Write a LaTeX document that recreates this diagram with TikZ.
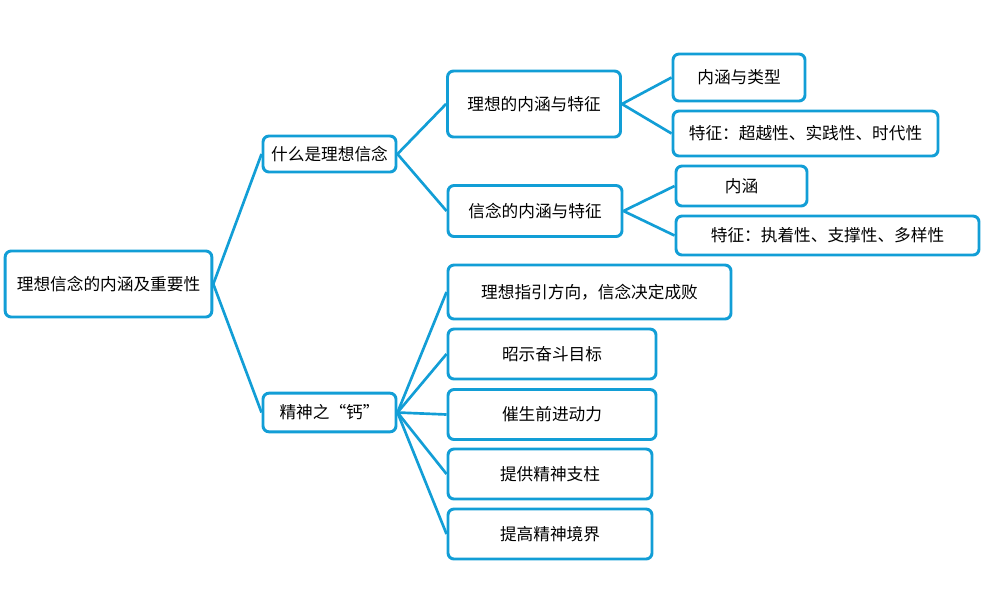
\documentclass[tikz,border=0pt]{standalone}
\usepackage{fontspec}
\setmainfont{Noto Sans CJK SC}
\definecolor{mapblue}{RGB}{18,158,214}
\begin{document}
\begin{tikzpicture}[x=0.75pt,y=-0.75pt,
	box/.style={draw=mapblue,line width=2.2pt,rounded corners=4.5pt,fill=white,
		inner sep=0pt,font=\fontsize{12.5}{15}\selectfont},
	link/.style={draw=mapblue,line width=2pt}]

\useasboundingbox (0,0) rectangle (981,612);

\node[box,minimum width=155pt,minimum height=49.5pt] (root) at (108.5,284) {理想信念的内涵及重要性};

\node[box,minimum width=99.75pt,minimum height=27pt]   (what) at (329.5,154) {什么是理想信念};
\node[box,minimum width=99.75pt,minimum height=29pt]   (calc) at (329.5,412.5) {精神之“钙”};

\node[box,minimum width=129.75pt,minimum height=49.5pt] (ideal)  at (534,104) {理想的内涵与特征};
\node[box,minimum width=130.5pt,minimum height=38.25pt] (belief) at (535,211) {信念的内涵与特征};

\node[box,minimum width=99pt,minimum height=35.25pt]     (idealA)  at (739,77.5) {内涵与类型};
\node[box,minimum width=198.75pt,minimum height=33.75pt] (idealB)  at (805.5,133.5) {特征：超越性、实践性、时代性};
\node[box,minimum width=98.25pt,minimum height=30pt]     (beliefA) at (741.5,186) {内涵};
\node[box,minimum width=227.25pt,minimum height=29.25pt] (beliefB) at (827.5,235.5) {特征：执着性、支撑性、多样性};

\node[box,minimum width=212.25pt,minimum height=40.5pt] (calcA) at (589.5,292) {理想指引方向，信念决定成败};
\node[box,minimum width=156pt,minimum height=37.5pt]    (calcB) at (552,354) {昭示奋斗目标};
\node[box,minimum width=156pt,minimum height=37.5pt]    (calcC) at (552,414.5) {催生前进动力};
\node[box,minimum width=153pt,minimum height=37.5pt]    (calcD) at (550,474) {提供精神支柱};
\node[box,minimum width=153pt,minimum height=37.5pt]    (calcE) at (550,534) {提高精神境界};

\path[link] (root.east)--(what.west);
\path[link] (root.east)--(calc.west);

\path[link] (what.east)--(ideal.west);
\path[link] (what.east)--(belief.west);

\path[link] (ideal.east)--(idealA.west);
\path[link] (ideal.east)--(idealB.west);
\path[link] (belief.east)--(beliefA.west);
\path[link] (belief.east)--(beliefB.west);

\foreach \c in {calcA,calcB,calcC,calcD,calcE}
	\path[link] (calc.east)--(\c.west);

\end{tikzpicture}
\end{document}
